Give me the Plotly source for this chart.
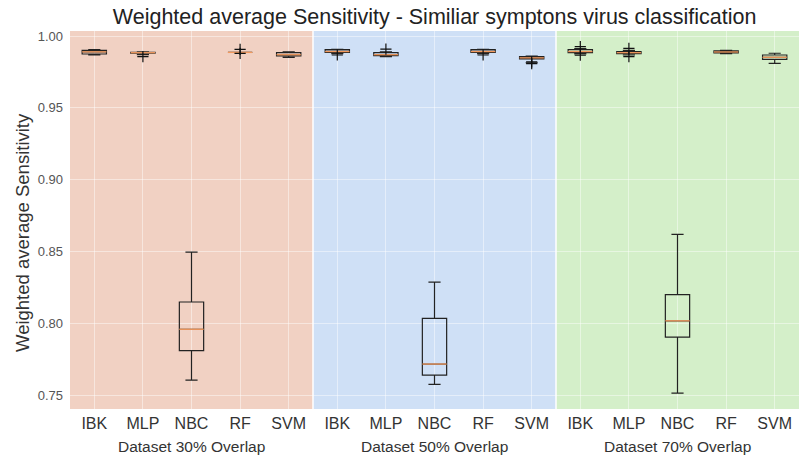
import plotly.graph_objects as go

# Classifier / dataset layout
classifiers = ["IBK", "MLP", "NBC", "RF", "SVM"]
datasets = ["Dataset 30% Overlap", "Dataset 50% Overlap", "Dataset 70% Overlap"]
region_colors = ["#f1d1c3", "#cfe0f6", "#d4efc9"]

# Box statistics per classifier, dataset by dataset (30%, 50%, 70%)
q1 = [0.9875, 0.9880, 0.7809, 0.9886, 0.9861,
      0.9886, 0.9863, 0.7639, 0.9886, 0.9840,
      0.9884, 0.9877, 0.7904, 0.9882, 0.9838]
median = [0.9890, 0.9884, 0.7958, 0.9886, 0.9870,
          0.9892, 0.9870, 0.7716, 0.9892, 0.9848,
          0.9892, 0.9884, 0.8017, 0.9889, 0.9852]
q3 = [0.9900, 0.9886, 0.8148, 0.9886, 0.9884,
      0.9905, 0.9884, 0.8034, 0.9905, 0.9856,
      0.9905, 0.9891, 0.8199, 0.9896, 0.9868]
lower = [0.9868, 0.9870, 0.7604, 0.9886, 0.9852,
         0.9878, 0.9856, 0.7574, 0.9878, 0.9814,
         0.9876, 0.9868, 0.7514, 0.9878, 0.9810]
upper = [0.9905, 0.9890, 0.8495, 0.9886, 0.9889,
         0.9908, 0.9890, 0.8287, 0.9908, 0.9860,
         0.9912, 0.9900, 0.8619, 0.9900, 0.9880]

# Outlying runs: (box index, value)
outlier_box = [1, 3, 3, 5, 6, 8, 9, 9, 10, 10, 11, 11]
outlier_val = [0.9856, 0.9907, 0.9879, 0.9868, 0.9909, 0.9868,
               0.9820, 0.9808, 0.9926, 0.9866, 0.9914, 0.9856]

positions = list(range(1, len(q1) + 1))
tick_text = classifiers * len(datasets)
box_width = 0.5

fig = go.Figure()

fig.add_trace(go.Box(
    x=positions, q1=q1, median=median, q3=q3,
    lowerfence=lower, upperfence=upper,
    width=box_width, whiskerwidth=0.5,
    line=dict(color="#222222", width=1.2),
    fillcolor="rgba(0,0,0,0)",
    boxpoints=False, showlegend=False,
))

# Orange median lines over each box
mx, my = [], []
for p, m in zip(positions, median):
    mx += [p - box_width / 2, p + box_width / 2, None]
    my += [m, m, None]
fig.add_trace(go.Scatter(x=mx, y=my, mode="lines",
                         line=dict(color="#f39a5e", width=1.3),
                         showlegend=False, hoverinfo="skip"))

# Outliers drawn as '+' markers
fig.add_trace(go.Scatter(
    x=[positions[i] for i in outlier_box], y=outlier_val, mode="markers",
    marker=dict(symbol="cross-thin", size=8,
                line=dict(color="#111111", width=1.2)),
    showlegend=False, hoverinfo="skip"))

n = len(classifiers)
shapes = []
annotations = []
for k, (name, col) in enumerate(zip(datasets, region_colors)):
    x0 = k * n + 0.5
    shapes.append(dict(type="rect", xref="x", yref="paper",
                       x0=x0, x1=x0 + n, y0=0, y1=1,
                       fillcolor=col, line=dict(width=0), layer="below"))
    annotations.append(dict(x=x0 + n / 2, y=-0.098, xref="x", yref="paper",
                            text=name, showarrow=False, yanchor="middle",
                            font=dict(size=15.5, color="#333333")))
for k in range(1, len(datasets)):
    shapes.append(dict(type="line", xref="x", yref="paper",
                       x0=k * n + 0.5, x1=k * n + 0.5, y0=0, y1=1,
                       line=dict(color="white", width=1.5), layer="below"))

# Y axis label
annotations.append(dict(x=-0.066, y=0.468, xref="paper", yref="paper",
                        text="Weighted average Sensitivity", textangle=-90,
                        showarrow=False, xanchor="center", yanchor="middle",
                        font=dict(size=18.5, color="#333333")))

font_family = "Liberation Sans, Arial, sans-serif"

fig.update_layout(
    width=799, height=458,
    margin=dict(l=70, r=0, t=31, b=49),
    paper_bgcolor="white", plot_bgcolor="white",
    font=dict(family=font_family, color="#333333"),
    title=dict(text="Weighted average Sensitivity - Similiar symptons virus classification",
               x=0.544, xanchor="center", y=0.965, yanchor="middle",
               font=dict(size=21.5, color="#222222")),
    shapes=shapes, annotations=annotations,
    xaxis=dict(range=[0.5, 15.5], tickvals=positions, ticktext=tick_text,
               showgrid=True, gridcolor="rgba(255,255,255,0.45)", gridwidth=1,
               zeroline=False, showline=False, ticks="", ticklabelstandoff=3,
               tickfont=dict(size=16, color="#333333")),
    yaxis=dict(range=[0.7403, 1.0035],
               tickvals=[0.75, 0.80, 0.85, 0.90, 0.95, 1.00],
               ticktext=["0.75", "0.80", "0.85", "0.90", "0.95", "1.00"],
               showgrid=True, gridcolor="rgba(255,255,255,0.45)", gridwidth=1,
               zeroline=False, showline=False, ticks="", ticklabelstandoff=6,
               tickfont=dict(size=13, color="#555555")),
)

fig.write_html("out.html")
